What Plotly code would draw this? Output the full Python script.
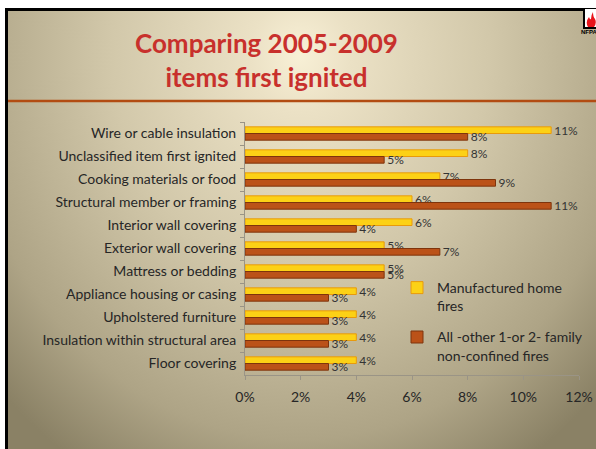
import plotly.graph_objects as go

# items first ignited, top to bottom
categories   = ['Wire or cable insulation',
                'Unclassified item first ignited',
                'Cooking materials or food',
                'Structural member or framing',
                'Interior wall covering',
                'Exterior wall covering',
                'Mattress or bedding',
                'Appliance housing or casing',
                'Upholstered furniture',
                'Insulation within structural area',
                'Floor covering']
manufactured = [11, 8, 7, 6, 6, 5, 5, 4, 4, 4, 4]
all_other    = [8, 5, 9, 11, 4, 7, 5, 3, 3, 3, 3]
x_ticks      = [0, 2, 4, 6, 8, 10, 12]
x_tick_text  = ['0%', '2%', '4%', '6%', '8%', '10%', '12%']

W, H = 596, 449
font_main = 'Lato, Open Sans, sans-serif'

fig = go.Figure()

# slide background (radial gradient) on its own pixel-scaled subplot
cx, cy, rx, ry = 300, 55, 420, 480
fig.add_trace(go.Scatter(x          = [cx - rx, cx + rx, cx + rx, cx - rx, cx - rx],
                         y          = [cy - ry, cy - ry, cy + ry, cy + ry, cy - ry],
                         mode       = 'lines',
                         fill       = 'toself',
                         line       = dict(width = 0),
                         fillgradient = dict(type       = 'radial',
                                             colorscale = [[0.0, '#f8f0d6'],
                                                           [0.12, '#ebe1c5'],
                                                           [0.45, '#d2c8aa'],
                                                           [0.8, '#aea486'],
                                                           [1.0, '#8a8165']]),
                         hoverinfo  = 'skip',
                         showlegend = False,
                         xaxis      = 'x',
                         yaxis      = 'y'))

fig.add_trace(go.Bar(y             = categories,
                     x             = manufactured,
                     orientation   = 'h',
                     name          = 'Manufactured home<br>fires',
                     legendgroup   = 'manufactured',
                     marker        = dict(color = '#fcd116',
                                          line  = dict(color = '#e89a0c', width = 1)),
                     text          = [f'{v}%' for v in manufactured],
                     textposition  = 'outside',
                     constraintext = 'none',
                     textfont      = dict(size = 12, color = '#333333', family = font_main),
                     cliponaxis    = False,
                     xaxis         = 'x2',
                     yaxis         = 'y2'))

fig.add_trace(go.Bar(y             = categories,
                     x             = all_other,
                     orientation   = 'h',
                     name          = 'All -other 1-or 2- family<br>non-confined fires',
                     legendgroup   = 'other',
                     marker        = dict(color = '#bb5218',
                                          line  = dict(color = '#7e340c', width = 1)),
                     text          = [f'{v}%' for v in all_other],
                     textposition  = 'outside',
                     constraintext = 'none',
                     textfont      = dict(size = 12, color = '#333333', family = font_main),
                     cliponaxis    = False,
                     xaxis         = 'x2',
                     yaxis         = 'y2'))

l, r, t, b = 245, 17, 122, 74

fig.update_layout(
    width         = W,
    height        = H,
    margin        = dict(l = 0, r = 0, t = 0, b = 0, autoexpand = False),
    paper_bgcolor = 'white',
    plot_bgcolor  = 'rgba(0,0,0,0)',
    barmode       = 'group',
    bargap        = 0.42,
    bargroupgap   = 0.0,
    font          = dict(family = font_main, color = '#262626'),
    xaxis  = dict(domain = [5 / W, 1], range = [5, W], visible = False, fixedrange = True),
    yaxis  = dict(domain = [0, 1 - 8 / H], range = [H, 8], visible = False, fixedrange = True),
    xaxis2 = dict(domain     = [l / W, 1 - r / W],
                  anchor     = 'y2',
                  range      = [0, 12],
                  tickvals   = x_ticks,
                  ticktext   = x_tick_text,
                  showgrid   = False,
                  zeroline   = False,
                  showline   = True,
                  linecolor  = '#9a9486',
                  ticks      = 'outside',
                  ticklen    = 4,
                  tickcolor  = '#9a9486',
                  ticklabelstandoff = 5,
                  tickfont   = dict(size = 14, color = '#262626')),
    yaxis2 = dict(domain     = [b / H, 1 - t / H],
                  anchor     = 'x2',
                  autorange  = 'reversed',
                  showgrid   = False,
                  showline   = True,
                  linecolor  = '#9a9486',
                  ticks      = 'outside',
                  tickson    = 'boundaries',
                  ticklen    = 4,
                  tickcolor  = '#9a9486',
                  ticklabelstandoff = 5,
                  tickfont   = dict(size = 14, color = '#262626')),
    legend = dict(x           = 397 / W,
                  y           = 1 - 272 / H,
                  xanchor     = 'left',
                  yanchor     = 'top',
                  bgcolor     = 'rgba(0,0,0,0)',
                  valign      = 'top',
                  traceorder  = 'grouped',
                  tracegroupgap = 10,
                  font        = dict(size = 14, color = '#262626', family = font_main)),
)

# title
fig.add_annotation(x         = 266,
                   y         = 60,
                   xref      = 'x',
                   yref      = 'y',
                   text      = '<b>Comparing 2005-2009<br>items first ignited</b>',
                   showarrow = False,
                   align     = 'center',
                   font      = dict(size = 26, color = '#c8302c', family = font_main))

# slide decorations: frame, rule under the title, logo
fig.add_shape(type = 'line', xref = 'x', yref = 'y', x0 = 6.5, x1 = 6.5, y0 = 8, y1 = H,
              line = dict(color = 'black', width = 3), layer = 'above')
fig.add_shape(type = 'line', xref = 'x', yref = 'y', x0 = 5, x1 = W, y0 = 9.5, y1 = 9.5,
              line = dict(color = 'black', width = 3), layer = 'above')
fig.add_shape(type = 'line', xref = 'x', yref = 'y', x0 = 8, x1 = W, y0 = 101, y1 = 101,
              line = dict(color = '#b24c12', width = 2.5), layer = 'above')
fig.add_shape(type = 'rect', xref = 'x', yref = 'y', x0 = 584, x1 = 600, y0 = 8, y1 = 28,
              fillcolor = 'white', line = dict(color = 'black', width = 2), layer = 'above')
fig.add_shape(type = 'path', xref = 'x', yref = 'y',
              path = 'M 588 27 Q 585 22 589 17 Q 590 20 591 19 Q 591 15 593 12 '
                     'Q 593 17 595 19 Q 597 23 594 27 Z',
              fillcolor = '#e8141b', line = dict(width = 0), layer = 'above')
fig.add_annotation(x = 589, y = 32, xref = 'x', yref = 'y', text = '<b>NFPA</b>',
                   showarrow = False, font = dict(size = 6, color = 'black', family = 'Arial'))

fig.write_html("out.html",
               config      = {'displayModeBar': False},
               post_script = "document.body.style.margin = '0';")
